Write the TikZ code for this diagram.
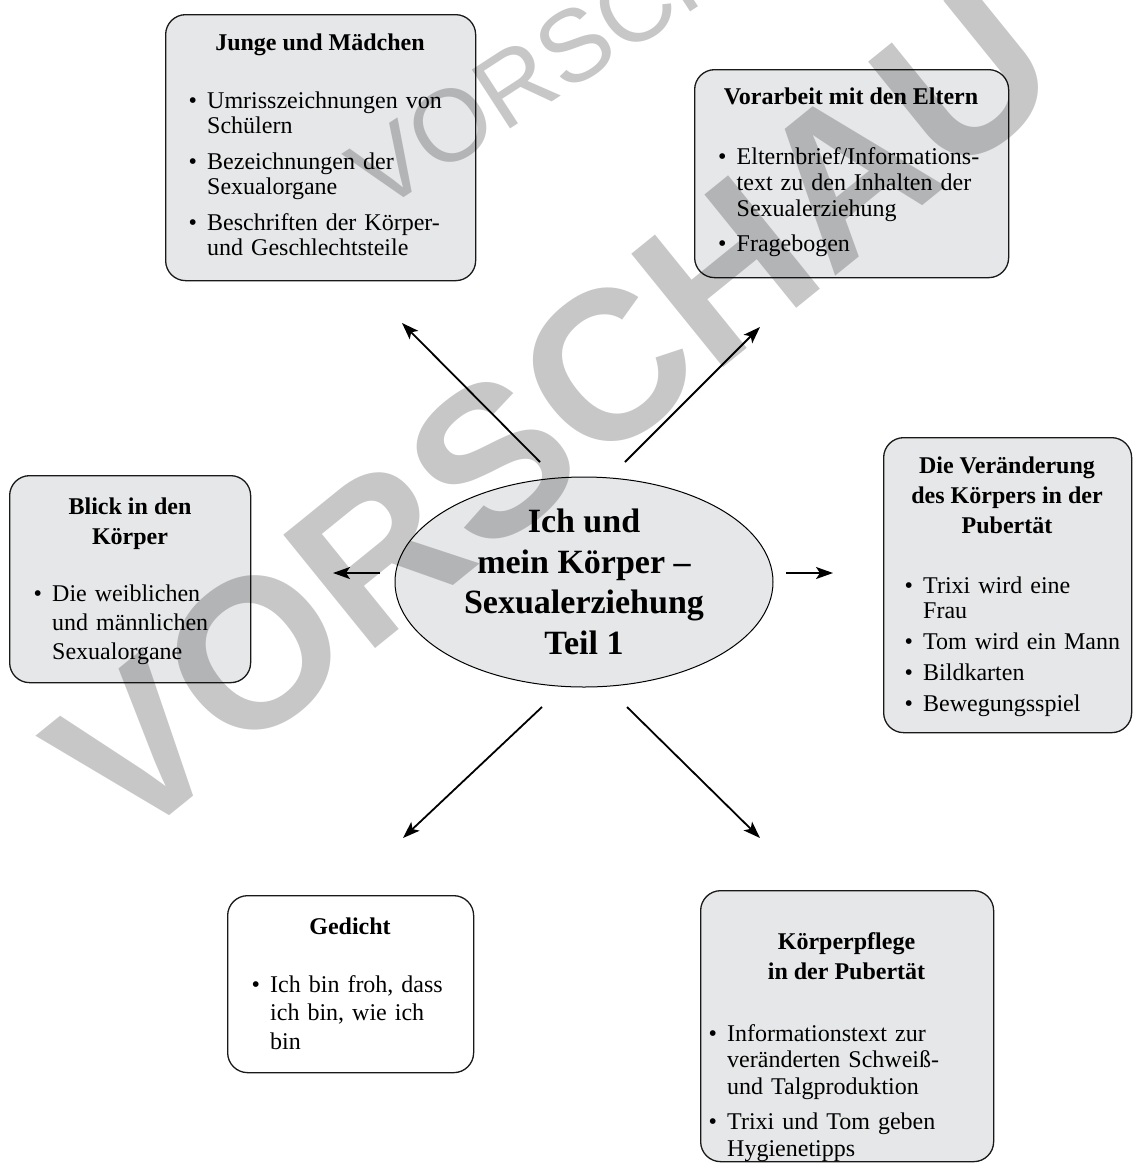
\documentclass[tikz,border=0pt]{standalone}
\usepackage{fontspec}
\setmainfont{Liberation Serif}
\newfontfamily\wmfont{Liberation Sans}
\usetikzlibrary{arrows.meta,shapes.geometric}
\definecolor{boxgray}{HTML}{E6E7E8}
\newcommand\bodyfont{\fontsize{24}{27.5}\selectfont}
\newcommand\itm[1]{\hangindent=18.5pt\hangafter=1\makebox[18.5pt][l]{•}#1\par}
\tikzset{
  box/.style={draw=black!90, line width=1.3pt, rounded corners=20pt, fill=boxgray, inner sep=0pt, anchor=north west},
  whitebox/.style={box, fill=white},
  ttl/.style={anchor=base, inner sep=0pt, align=center, font=\bfseries\fontsize{24}{30}\selectfont},
  lst/.style={anchor=base west, inner sep=0pt, text width=#1, font=\bodyfont},
  arr/.style={line width=1.8pt, -{Stealth[length=17pt,width=12pt,inset=4pt]}},
  wm/.style={text=black, text opacity=0.22, inner sep=0pt}
}
\begin{document}
\begin{tikzpicture}[x=1pt,y=-1pt]
\fill[white] (0,0) rectangle (1133,1163);
\useasboundingbox (0,0) rectangle (1133,1163);

% boxes
\node[box, minimum width=310pt, minimum height=266pt] (junge) at (165,14) {};
\node[box, minimum width=314pt, minimum height=208pt] (eltern) at (694,69) {};
\node[box, minimum width=241pt, minimum height=207pt] (blick) at (9,475) {};
\node[box, minimum width=248pt, minimum height=295pt] (veraend) at (883,437) {};
\node[whitebox, minimum width=246pt, minimum height=177pt] (gedicht) at (227,895) {};
\node[box, minimum width=293pt, minimum height=271pt] (pflege) at (700,890) {};

% centre
\node[ellipse, draw=black, line width=1pt, fill=boxgray, minimum width=378pt, minimum height=210pt, inner sep=0pt,
      align=center, font=\bfseries\fontsize{34}{40.5}\selectfont] (mitte) at (584,582)
      {Ich und\\mein Körper –\\Sexualerziehung\\Teil 1};

% texts
\node[ttl] (jungeT) at (320,50) {Junge und Mädchen};
\node[lst=270pt] (jungeL) at (188.5,108) {\setlength\parskip{10pt}\fontsize{24}{25.5}\selectfont\raggedright
  \itm{Umrisszeichnungen von\newline Schülern}
  \itm{Bezeichnungen der\newline Sexualorgane}
  \itm{Beschriften der Körper-\newline und Geschlechtsteile}};

\node[ttl] (elternT) at (851,104) {Vorarbeit mit den Eltern};
\node[lst=280pt] (elternL) at (718,164) {\setlength\parskip{9pt}\fontsize{24}{26}\selectfont\raggedright
  \itm{Elternbrief/Informations-\newline text zu den Inhalten der\newline Sexualerziehung}
  \itm{Fragebogen}};

\node[ttl] (blickT) at (130,544) {Blick in den\\Körper};
\node[lst=210pt] (blickL) at (33.5,601) {\fontsize{24}{29}\selectfont\raggedright
  \itm{Die weiblichen\newline und männlichen\newline Sexualorgane}};

\node[ttl] (veraendT) at (1007,533) {Die Veränderung\\des Körpers in der\\Pubertät};
\node[lst=220pt] (veraendL) at (904.5,593) {\setlength\parskip{6pt}\fontsize{24}{25}\selectfont\raggedright
  \itm{Trixi wird eine\newline Frau}
  \itm{Tom wird ein Mann}
  \itm{Bildkarten}
  \itm{Bewegungsspiel}};

\node[ttl] (gedichtT) at (350,934) {Gedicht};
\node[lst=210pt] (gedichtL) at (251.5,992) {\fontsize{24}{28.5}\selectfont\raggedright
  \itm{Ich bin froh, dass\newline ich bin, wie ich\newline bin}};

\node[ttl] (pflegeT) at (846.5,979) {Körperpflege\\in der Pubertät};
\node[lst=270pt] (pflegeL) at (708.5,1041) {\setlength\parskip{9pt}\fontsize{24}{26.5}\selectfont\raggedright
  \itm{Informationstext zur\newline veränderten Schweiß-\newline und Talgproduktion}
  \itm{Trixi und Tom geben\newline Hygienetipps}};

% arrows
\coordinate (ulS) at (540,462); \coordinate (ulE) at (402,323);
\coordinate (urS) at (625,462); \coordinate (urE) at (760,327);
\coordinate (lS) at (380,573);  \coordinate (lE) at (333,573);
\coordinate (rS) at (786,573);  \coordinate (rE) at (833,573);
\coordinate (dlS) at (542,707); \coordinate (dlE) at (403,838);
\coordinate (drS) at (627,707); \coordinate (drE) at (760,838);
\draw[arr] (ulS) -- (ulE);
\draw[arr] (urS) -- (urE);
\draw[arr] (lS) -- (lE);
\draw[arr] (rS) -- (rE);
\draw[arr] (dlS) -- (dlE);
\draw[arr] (drS) -- (drE);

% watermarks
\node[wm, font=\wmfont\bfseries\fontsize{212}{212}\selectfont, rotate=39] (wmbig) at (552,412) {VORSCHAU};
\node[wm, font=\wmfont\fontsize{102}{102}\selectfont, rotate=33] (wmsmall) at (603,27) {VORSCHAU};
\end{tikzpicture}
\end{document}
